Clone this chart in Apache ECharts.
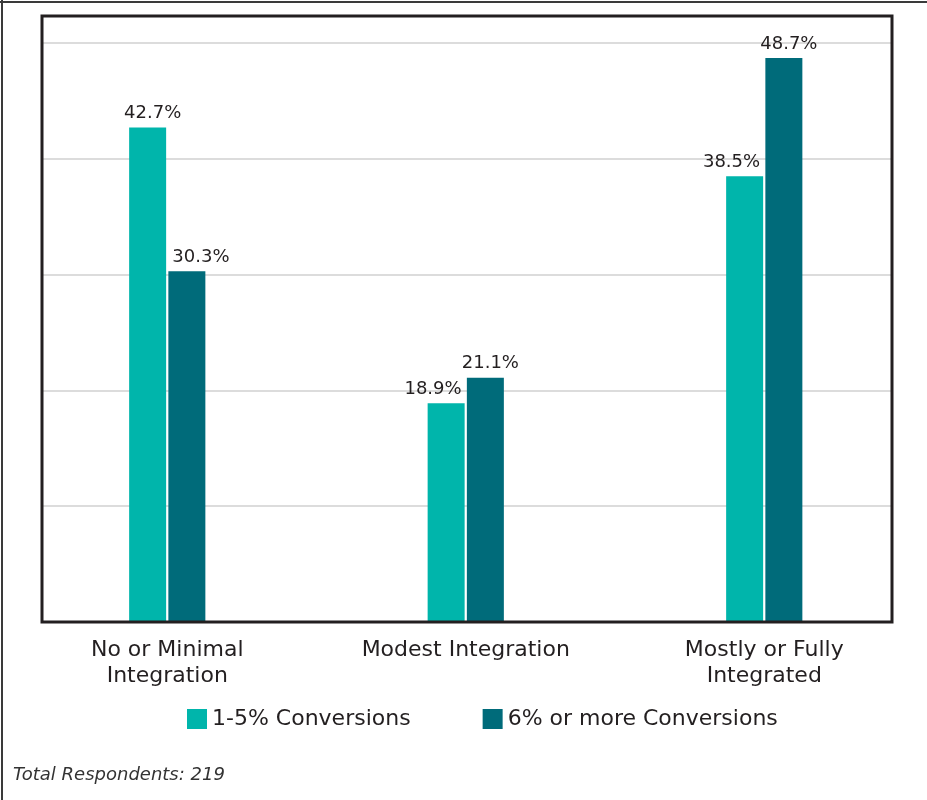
<!DOCTYPE html>
<html>
<head>
<meta charset="utf-8">
<script src="https://cdn.jsdelivr.net/npm/echarts@6/dist/echarts.min.js"></script>
<style>
  html, body { margin: 0; padding: 0; background: #ffffff; }
  #chart { width: 927px; height: 800px; }
</style>
</head>
<body>
<div id="chart"></div>
<script>
// Integration level vs. share of respondents, by conversion rate group
const categories = ['No or Minimal\nIntegration', 'Modest Integration', 'Mostly or Fully\nIntegrated'];
const seriesNames = ['1-5% Conversions', '6% or more Conversions'];
const lowConversions = [42.7, 18.9, 38.5];
const highConversions = [30.3, 21.1, 48.7];
const footnote = 'Total Respondents: 219';

const TEXT = '#231f20';
const FONT = 'DejaVu Sans';
const BAR_W = 37;
const colors = ['#00b5ab', '#006b7a'];

// A shorter bar keeps its label clear of the taller neighbour by aligning
// the text to its outer edge; the taller bar's label stays centred.
function labelFor(value, other, side) {
  const base = {
    show: true,
    position: 'top',
    distance: 5,
    fontFamily: FONT,
    fontSize: 18,
    color: TEXT,
    formatter: (p) => p.value.toFixed(1) + '%'
  };
  if (value >= other) {
    return Object.assign(base, { align: 'center', offset: [5, 0] });
  }
  if (side === 'left') {
    return Object.assign(base, { align: 'right', offset: [BAR_W / 2 - 3, 0] });
  }
  return Object.assign(base, { align: 'left', offset: [-BAR_W / 2 + 4, 0] });
}

const lowData = lowConversions.map((v, i) => ({ value: v, label: labelFor(v, highConversions[i], 'left') }));
const highData = highConversions.map((v, i) => ({ value: v, label: labelFor(v, lowConversions[i], 'right') }));

const chart = echarts.init(document.getElementById('chart'), null, { renderer: 'canvas' });

chart.setOption({
  animation: false,
  backgroundColor: '#ffffff',
  textStyle: { fontFamily: FONT, color: TEXT },
  grid: [
    // frame grid carrying the horizontal gridlines
    { left: 42, right: 35, top: 43, bottom: 178, containLabel: false },
    // bar grid
    { left: 18, right: 13.5, top: 43, bottom: 178, containLabel: false }
  ],
  xAxis: [
    { type: 'value', gridIndex: 0, show: false, min: 0, max: 1 },
    {
      type: 'category',
      gridIndex: 1,
      data: categories,
      axisLine: { show: false },
      axisTick: { show: false },
      axisLabel: {
        margin: 15,
        fontFamily: FONT,
        fontSize: 22,
        lineHeight: 26,
        color: TEXT,
        interval: 0
      }
    }
  ],
  yAxis: [
    {
      type: 'value',
      gridIndex: 0,
      min: 0,
      max: 50,
      interval: 10,
      axisLine: { show: false },
      axisTick: { show: false },
      axisLabel: { show: false },
      splitLine: { show: true, lineStyle: { color: '#dcdcdc', width: 2 } }
    },
    {
      type: 'value',
      gridIndex: 1,
      min: 0,
      max: 50,
      interval: 10,
      show: false,
      splitLine: { show: false }
    }
  ],
  legend: {
    data: seriesNames,
    left: 182,
    top: 703,
    icon: 'rect',
    itemWidth: 20,
    itemHeight: 20,
    itemGap: 72,
    textStyle: { fontFamily: FONT, fontSize: 22, color: TEXT }
  },
  series: [
    {
      name: seriesNames[0],
      type: 'bar',
      xAxisIndex: 1,
      yAxisIndex: 1,
      barWidth: BAR_W,
      barGap: '6%',
      itemStyle: { color: colors[0] },
      data: lowData
    },
    {
      name: seriesNames[1],
      type: 'bar',
      xAxisIndex: 1,
      yAxisIndex: 1,
      barWidth: BAR_W,
      barGap: '6%',
      itemStyle: { color: colors[1] },
      data: highData
    }
  ],
  graphic: [
    // outer page border (top and left edges)
    { type: 'line', z: 100, shape: { x1: 0, y1: 2, x2: 927, y2: 2 }, style: { stroke: '#3a3a3a', lineWidth: 2 } },
    { type: 'line', z: 100, shape: { x1: 2, y1: 0, x2: 2, y2: 800 }, style: { stroke: '#3a3a3a', lineWidth: 2 } },
    // plot frame
    {
      type: 'rect',
      z: 100,
      shape: { x: 42, y: 16, width: 850, height: 606 },
      style: { fill: null, stroke: TEXT, lineWidth: 3 }
    },
    {
      type: 'text',
      z: 100,
      left: 13,
      top: 766,
      style: {
        text: footnote,
        fontFamily: FONT,
        fontStyle: 'italic',
        fontSize: 18,
        fill: '#333333'
      }
    }
  ]
});
</script>
</body>
</html>
